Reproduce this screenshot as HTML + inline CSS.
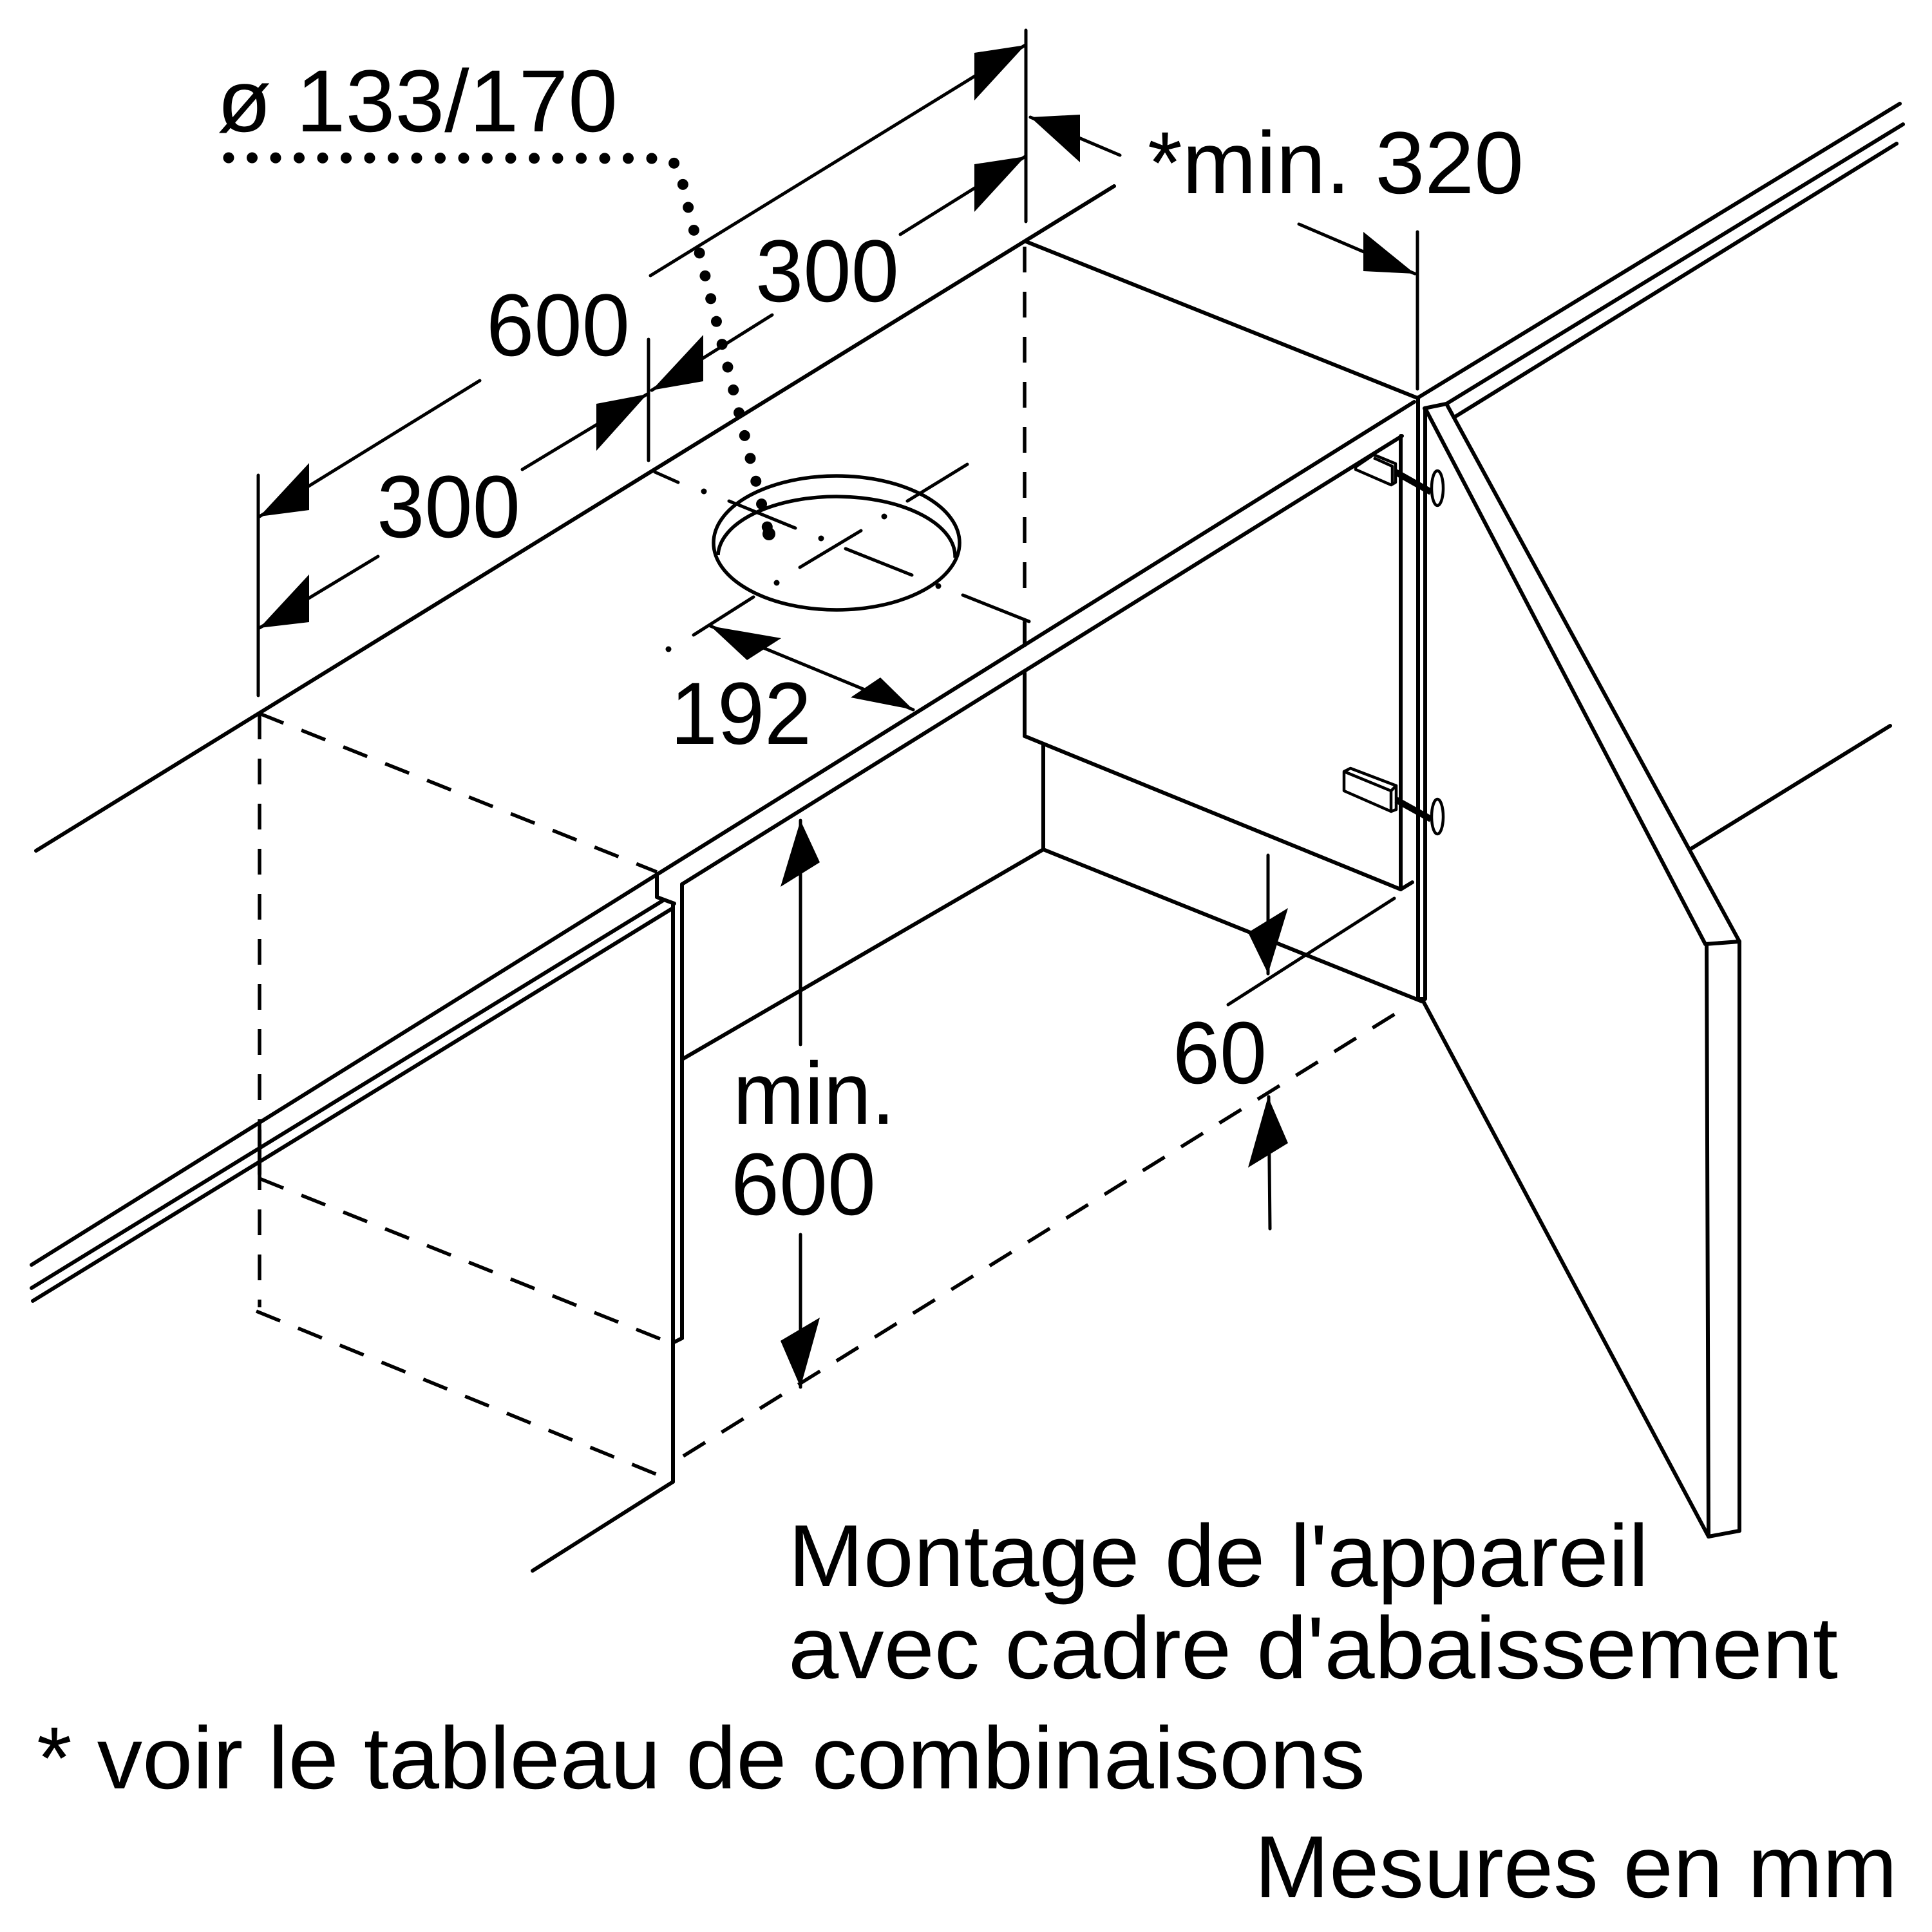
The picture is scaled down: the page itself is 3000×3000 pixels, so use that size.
<!DOCTYPE html>
<html>
<head>
<meta charset="utf-8">
<style>
html,body{margin:0;padding:0;background:#fff;}
svg{display:block;}
text{font-family:"Liberation Sans",Arial,sans-serif;font-size:137px;fill:#000;}
</style>
</head>
<body>
<svg width="3000" height="3000" viewBox="0 0 3000 3000" xmlns="http://www.w3.org/2000/svg">
<rect width="3000" height="3000" fill="#fff"/>

<!-- main construction lines -->
<g stroke="#000" stroke-width="6" fill="none" stroke-linecap="round" stroke-linejoin="round">
  <!-- back top line -->
  <line x1="56" y1="1321" x2="1730" y2="289"/>
  <line x1="1593" y1="375" x2="2201" y2="618"/>
  <!-- right countertop lines -->
  <line x1="2201" y1="618" x2="2950" y2="161"/>
  <line x1="2246" y1="627" x2="2955" y2="193"/>
  <line x1="2258" y1="648" x2="2945" y2="223"/>
  <!-- front strip -->
  <line x1="49" y1="1964" x2="2196" y2="624"/>
  <line x1="1059" y1="1373" x2="2177" y2="677"/>
  <line x1="49" y1="2000" x2="1030" y2="1398"/>
  <line x1="51" y1="2020" x2="1045" y2="1410"/>
  <!-- left panel -->
  <line x1="1020" y1="1357" x2="1020" y2="1393"/>
  <line x1="1020" y1="1393" x2="1047" y2="1403"/>
  <line x1="1045" y1="1403" x2="1045" y2="2301"/>
  <line x1="1059" y1="1373" x2="1059" y2="2078"/>
  <line x1="1045" y1="2085" x2="1059" y2="2078"/>
  <line x1="1045" y1="2301" x2="827" y2="2439"/>
  <!-- niche -->
  <line x1="1059" y1="1645" x2="1620" y2="1319"/>
  <line x1="1620" y1="1155" x2="1620" y2="1319"/>
  <line x1="1591" y1="1143" x2="2175" y2="1381"/>
  <line x1="1620" y1="1319" x2="2208" y2="1555"/>
  <line x1="1591" y1="966" x2="1591" y2="1002"/>
  <line x1="1591" y1="1045" x2="1591" y2="1143"/>
  <!-- right cabinet side -->
  <line x1="2175" y1="677" x2="2175" y2="1381"/>
  <line x1="2175" y1="1381" x2="2193" y2="1370"/>
  <line x1="2202" y1="618" x2="2202" y2="1551"/>
  <line x1="2213" y1="634" x2="2213" y2="1551"/>
  <line x1="2202" y1="1551" x2="2213" y2="1551"/>
  <!-- door -->
  <line x1="2212" y1="634" x2="2246" y2="627"/>
  <line x1="2213" y1="634" x2="2648" y2="1466"/>
  <line x1="2246" y1="627" x2="2701" y2="1462"/>
  <line x1="2648" y1="1466" x2="2701" y2="1462"/>
  <line x1="2650" y1="1466" x2="2653" y2="2386"/>
  <line x1="2701" y1="1462" x2="2701" y2="2377"/>
  <line x1="2653" y1="2386" x2="2701" y2="2377"/>
  <line x1="2208" y1="1551" x2="2653" y2="2386"/>
  <line x1="2624" y1="1319" x2="2935" y2="1127"/>
  <!-- solid bit where dashed crosses strip -->
  <line x1="403" y1="1755" x2="403" y2="1823"/>
</g>

<!-- dashed hidden lines -->
<g stroke="#000" stroke-width="5.5" fill="none" stroke-dasharray="40 30">
  <line x1="403" y1="1108" x2="403" y2="2030"/>
  <line x1="403" y1="1108" x2="1020" y2="1354"/>
  <line x1="403" y1="1830" x2="1045" y2="2087"/>
  <line x1="398" y1="2036" x2="1026" y2="2292"/>
  <line x1="1061" y1="2261" x2="2175" y2="1569"/>
  <line x1="1591" y1="383" x2="1591" y2="931"/>
</g>

<!-- extension and dimension lines -->
<g stroke="#000" stroke-width="5" fill="none" stroke-linecap="round">
  <line x1="401" y1="738" x2="401" y2="1080"/>
  <line x1="1007" y1="527" x2="1007" y2="715"/>
  <line x1="1593" y1="47" x2="1593" y2="344"/>
  <line x1="2201" y1="360" x2="2201" y2="604"/>
  <line x1="1969" y1="1328" x2="1969" y2="1512"/>
  <line x1="1970" y1="1703" x2="1972" y2="1908"/>
  <line x1="1907" y1="1560" x2="2165" y2="1395"/>

  <line x1="403" y1="802" x2="745" y2="591"/>
  <line x1="1010" y1="428" x2="1592" y2="70"/>
  <line x1="1012" y1="606" x2="1199" y2="489"/>
  <line x1="1398" y1="364" x2="1592" y2="243"/>
  <line x1="403" y1="975" x2="587" y2="864"/>
  <line x1="811" y1="729" x2="1005" y2="612"/>
  <line x1="1103" y1="972" x2="1418" y2="1102"/>
  <line x1="1243" y1="1274" x2="1243" y2="1622"/>
  <line x1="1243" y1="1917" x2="1243" y2="2154"/>
  <line x1="1600" y1="182" x2="1739" y2="241"/>
  <line x1="2017" y1="348" x2="2197" y2="425"/>
</g>

<!-- arrowheads -->
<g fill="#000" stroke="none">
  <polygon points="403,802 480,719 480,792"/>
  <polygon points="1592,70 1513,82 1513,156"/>
  <polygon points="1012,606 1092,520 1092,592"/>
  <polygon points="1592,243 1513,255 1513,329"/>
  <polygon points="403,975 480,892 480,966"/>
  <polygon points="1005,612 926,627 926,700"/>
  <polygon points="1103,972 1213,991 1160,1025"/>
  <polygon points="1418,1102 1321,1083 1367,1052"/>
  <polygon points="1243,1274 1212,1377 1273,1339"/>
  <polygon points="1243,2154 1212,2082 1273,2046"/>
  <polygon points="1969,1512 1938,1448 2000,1410"/>
  <polygon points="1969,1703 1938,1813 2000,1775"/>
  <polygon points="1600,182 1677,178 1677,252"/>
  <polygon points="2197,425 2117,360 2117,421"/>
</g>

<!-- duct hole -->
<g stroke="#000" stroke-width="5.5" fill="none">
  <ellipse cx="1299" cy="843" rx="191" ry="104"/>
  <path d="M1115,862 A184,93 0 0 1 1483,866"/>
</g>
<!-- centre lines (dash-dot) -->
<g stroke="#000" stroke-width="5" fill="none" stroke-linecap="round">
  <line x1="1017" y1="733" x2="1053" y2="749"/>
  <line x1="1132" y1="778" x2="1235" y2="820"/>
  <line x1="1313" y1="852" x2="1416" y2="893"/>
  <line x1="1495" y1="924" x2="1598" y2="965"/>
  <line x1="1502" y1="721" x2="1409" y2="778"/>
  <line x1="1337" y1="824" x2="1242" y2="881"/>
  <line x1="1170" y1="927" x2="1077" y2="986"/>
</g>
<g fill="#000">
  <circle cx="1093" cy="763" r="4.5"/>
  <circle cx="1275" cy="836" r="4.5"/>
  <circle cx="1457" cy="910" r="4.5"/>
  <circle cx="1373" cy="802" r="4.5"/>
  <circle cx="1206" cy="905" r="4.5"/>
  <circle cx="1038" cy="1008" r="4.5"/>
</g>

<!-- dotted leader -->
<path d="M355,245 L1030,246 Q1056,248 1061,291 L1194,829" stroke="#000" stroke-width="17" fill="none" stroke-linecap="round" stroke-dasharray="0 36.5"/>
<circle cx="1194" cy="829" r="10" fill="#000"/>

<!-- hinges -->
<g stroke="#000" stroke-width="4.5" fill="#fff" stroke-linejoin="round">
  <polygon points="2105,725 2133,706 2167,720 2167,749 2160,753 2105,729"/>
  <polyline points="2133,711 2162,724 2162,753" fill="none"/>
  <polygon points="2087,1198 2097,1193 2168,1220 2168,1257 2160,1260 2087,1228"/>
  <polyline points="2087,1198 2160,1228 2160,1260" fill="none"/>
  <line x1="2160" y1="1228" x2="2168" y2="1220"/>
</g>
<g stroke="#000" stroke-width="10" fill="none">
  <line x1="2167" y1="733" x2="2222" y2="764"/>
  <line x1="2168" y1="1242" x2="2222" y2="1272"/>
</g>
<g stroke="#000" stroke-width="4.5" fill="#fff">
  <ellipse cx="2232" cy="758" rx="9" ry="27"/>
  <ellipse cx="2232" cy="1268" rx="9" ry="27"/>
</g>

<!-- labels -->
<text x="337" y="204" textLength="622" lengthAdjust="spacingAndGlyphs">ø 133/170</text>
<text x="1782" y="300" textLength="584" lengthAdjust="spacingAndGlyphs">*min. 320</text>
<text x="1173" y="468" textLength="223" lengthAdjust="spacingAndGlyphs">300</text>
<text x="755" y="552" textLength="223" lengthAdjust="spacingAndGlyphs">600</text>
<text x="585" y="834" textLength="223" lengthAdjust="spacingAndGlyphs">300</text>
<text x="1041" y="1155" textLength="219" lengthAdjust="spacingAndGlyphs">192</text>
<text x="1138" y="1745" textLength="252" lengthAdjust="spacingAndGlyphs">min.</text>
<text x="1135" y="1886" textLength="225" lengthAdjust="spacingAndGlyphs">600</text>
<text x="1821" y="1682" textLength="146" lengthAdjust="spacingAndGlyphs">60</text>
<text x="1224" y="2463" textLength="1336" lengthAdjust="spacingAndGlyphs">Montage de l'appareil</text>
<text x="1224" y="2606" textLength="1630" lengthAdjust="spacingAndGlyphs">avec cadre d'abaissement</text>
<text x="57" y="2777" textLength="2063" lengthAdjust="spacingAndGlyphs">* voir le tableau de combinaisons</text>
<text x="1948" y="2946" textLength="998" lengthAdjust="spacingAndGlyphs">Mesures en mm</text>
</svg>
</body>
</html>
